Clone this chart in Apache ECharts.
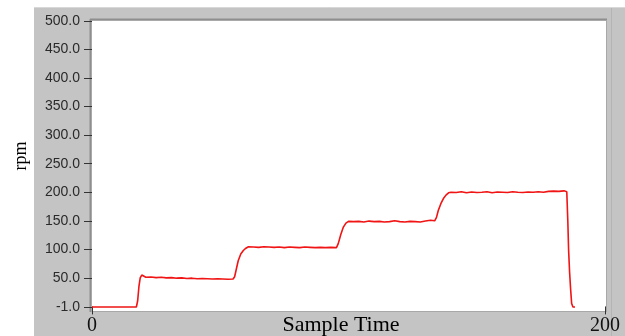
<!DOCTYPE html>
<html>
<head>
<meta charset="utf-8">
<script src="https://cdn.jsdelivr.net/npm/echarts@6/dist/echarts.min.js"></script>
<style>
html,body{margin:0;padding:0;background:#fff;}
#chart{width:625px;height:336px;}
</style>
</head>
<body>
<div id="chart"></div>
<script>
// ---- data ----
var sampleTime = [0, 5, 10, 15, 17.3, 17.8, 18.3, 18.8, 19.4, 20,
  21, 23, 25, 27, 29, 31, 33, 35, 37, 39, 41, 43, 45, 47, 49, 51, 53, 55,
  55.6, 56.3, 57, 58, 59, 60, 61,
  63, 65, 67, 69, 71, 73, 75, 77, 79, 81, 83, 85, 87, 89, 91, 93, 95.3,
  96, 97, 98, 99, 100,
  102, 104, 106, 108, 110, 112, 114, 116, 118, 120, 122, 124, 126, 128, 130, 132, 133.6,
  134.3, 135, 136, 137, 138, 139, 140,
  142, 144, 146, 148, 150, 152, 154, 156, 158, 160, 162, 164, 166, 168, 170, 172, 174, 176, 178, 180, 182, 184, 185.1,
  185.5, 185.8, 186.2, 186.6, 187, 187.5, 188.3];
var rpm = [-1, -1, -1, -1, -1, 10, 35, 50, 55, 52,
  51, 51.5, 50.5, 51, 50, 50.5, 49.5, 50, 49, 49.5, 48.5, 49, 48.5, 48, 48.5, 48, 47.5, 48,
  52, 66, 80, 92, 98, 102, 104.5,
  104, 103.5, 104.5, 104, 103.5, 104, 103, 104, 103.5, 103, 104, 103.5, 103, 103.5, 103, 103.5, 103,
  110, 126, 139, 146, 149,
  148.5, 149, 148, 149.5, 148.5, 149, 148, 148.5, 150, 148.5, 148, 149, 148.5, 148, 149.5, 151, 150,
  156, 168, 180, 189, 195, 199, 200,
  199.5, 201, 199, 200.5, 199.5, 200, 201, 199, 200.5, 200, 199.5, 201, 200, 199.5, 200.5, 200, 201, 200, 201.5, 202, 201.5, 202.5, 201,
  150, 100, 60, 30, 5, -1, -1];
var yTickLabels = [-1, 50, 100, 150, 200, 250, 300, 350, 400, 450, 500];
var xTickLabels = [0, 200];

var points = sampleTime.map(function (t, i) { return [t, rpm[i]]; });

var chart = echarts.init(document.getElementById('chart'), null, {renderer: 'canvas'});
var option = {
  animation: false,
  backgroundColor: '#ffffff',
  grid: {left: 92, top: 21, width: 513, height: 288, show: false},
  graphic: [
    {type: 'rect', z: -20, shape: {x: 34, y: 7, width: 591, height: 329}, style: {fill: '#c4c4c4'}},
    {type: 'line', z: -19, shape: {x1: 34, y1: 7.5, x2: 625, y2: 7.5}, style: {stroke: '#d8d8d8', lineWidth: 1}},
    {type: 'rect', z: -18, shape: {x: 92, y: 21, width: 514, height: 290}, style: {fill: '#ffffff'}},
    {type: 'line', z: -17, shape: {x1: 90.5, y1: 19, x2: 90.5, y2: 312}, style: {stroke: '#8e8e8e', lineWidth: 2}},
    {type: 'line', z: -17, shape: {x1: 90, y1: 19.5, x2: 607, y2: 19.5}, style: {stroke: '#8e8e8e', lineWidth: 2}},
    {type: 'line', z: -17, shape: {x1: 91, y1: 311.5, x2: 607, y2: 311.5}, style: {stroke: '#a8a8a8', lineWidth: 1}},
    {type: 'line', z: -17, shape: {x1: 606.5, y1: 20, x2: 606.5, y2: 312}, style: {stroke: '#a8a8a8', lineWidth: 1}},
    {type: 'line', z: -17, shape: {x1: 611.5, y1: 8, x2: 611.5, y2: 336}, style: {stroke: '#b4b4b4', lineWidth: 1}},
    {type: 'text', z: 10, x: 21, y: 156, rotation: Math.PI / 2,
      style: {text: 'rpm', fill: '#000', font: '18px "Liberation Serif"', align: 'center', verticalAlign: 'middle'}},
    {type: 'text', z: 10, x: 341, y: 325,
      style: {text: 'Sample Time', fill: '#000', font: '22px "Liberation Serif"', align: 'center', verticalAlign: 'middle'}}
  ],
  xAxis: {
    type: 'value', min: 0, max: 200,
    axisLine: {show: false},
    splitLine: {show: false},
    axisTick: {show: true, length: 8, customValues: xTickLabels, lineStyle: {color: '#333', width: 1}},
    axisLabel: {customValues: xTickLabels, margin: 9, color: '#111',
      fontFamily: 'Liberation Serif', fontSize: 20, formatter: function (v) { return String(v); }}
  },
  yAxis: {
    type: 'value', min: -1, max: 500,
    axisLine: {show: false},
    splitLine: {show: false},
    axisTick: {show: true, length: 8, customValues: yTickLabels, lineStyle: {color: '#333', width: 1}},
    axisLabel: {customValues: yTickLabels, margin: 12, color: '#2a2a2a',
      fontFamily: 'Liberation Sans', fontSize: 14, formatter: function (v) { return v.toFixed(1); }}
  },
  series: [{
    type: 'line', data: points, showSymbol: false, symbol: 'none',
    lineStyle: {color: '#f01414', width: 1.6}, smooth: false, clip: false, z: 5
  }]
};
chart.setOption(option);
</script>
</body>
</html>
